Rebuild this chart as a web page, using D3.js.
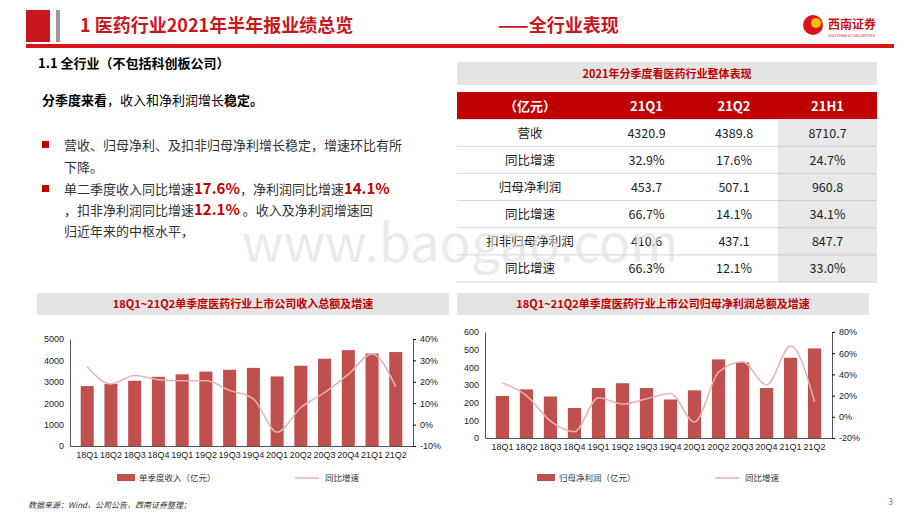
<!DOCTYPE html><html><head><meta charset="utf-8"><script src="https://cdn.jsdelivr.net/npm/d3@7"></script>
<style>body{margin:0;background:#fff;font-family:"Noto Sans CJK SC","Noto Sans",sans-serif}</style></head><body><svg id="s" width="920" height="518"></svg>
<script>
const quarters=["18Q1","18Q2","18Q3","18Q4","19Q1","19Q2","19Q3","19Q4","20Q1","20Q2","20Q3","20Q4","21Q1","21Q2"];
const revenue=[2800,2900,3050,3230,3350,3480,3560,3650,3250,3750,4080,4480,4320,4390];
const revenueGrowth=[27,19,23,21,20.5,20.5,16,12,-3.5,8,15,23.5,33,17.6];
const profit=[238,275,235,170,283,310,283,218,270,445,428,283,454,507];
const profitGrowth=[32,20,-4,-14,18,12,17,22,-5,42,52,30,66.7,14.1];
const revTicks=[0,1000,2000,3000,4000,5000], revPctTicks=[-10,0,10,20,30,40];
const proTicks=[0,100,200,300,400,500,600], proPctTicks=[-20,0,20,40,60,80];
const tableHead=["（亿元）","21Q1","21Q2","21H1"];
const tableRows=[["营收","4320.9","4389.8","8710.7"],["同比增速","32.9%","17.6%","24.7%"],["归母净利润","453.7","507.1","960.8"],["同比增速","66.7%","14.1%","34.1%"],["扣非归母净利润","410.6","437.1","847.7"],["同比增速","66.3%","12.1%","33.0%"]];
const svg=d3.select("#s");
const RED="#c0504d",DR="#c00000",PINK="#e6b3b3";
// header
svg.append("rect").attr("x",26).attr("y",10).attr("width",24).attr("height",32).attr("fill","#c8161d");
svg.append("rect").attr("x",56).attr("y",10).attr("width",4).attr("height",32).attr("fill","#999");
svg.append("rect").attr("x",26).attr("y",44).attr("width",868).attr("height",4).attr("fill","#d9141b");
svg.append("text").attr("x",80).attr("y",32).attr("font-size",18).attr("font-weight","bold").attr("fill","#c8161d").text("1 医药行业2021年半年报业绩总览");
svg.append("text").attr("x",498).attr("y",32).attr("font-size",18).attr("font-weight","bold").attr("fill","#c8161d").text("——全行业表现");
svg.append("circle").attr("cx",813).attr("cy",25).attr("r",10).attr("fill","#d9141b");
svg.append("circle").attr("cx",816).attr("cy",23).attr("r",5).attr("fill","#f2c200");
svg.append("text").attr("x",828).attr("y",29).attr("font-size",12).attr("font-weight","bold").attr("fill","#c8161d").text("西南证券");
svg.append("text").attr("x",828).attr("y",37).attr("font-size",4).attr("fill","#c8161d").text("SOUTHWEST SECURITIES");
// left text
svg.append("text").attr("x",38).attr("y",68).attr("font-size",13).attr("font-weight","bold").text("1.1 全行业（不包括科创板公司）");
const t2=svg.append("text").attr("x",42).attr("y",105).attr("font-size",13);
t2.append("tspan").attr("font-weight","bold").text("分季度来看");t2.append("tspan").text("，收入和净利润增长");t2.append("tspan").attr("font-weight","bold").text("稳定。");
svg.append("rect").attr("x",42).attr("y",141).attr("width",7).attr("height",7).attr("fill",DR);
svg.append("rect").attr("x",42).attr("y",185).attr("width",7).attr("height",7).attr("fill",DR);
svg.append("text").attr("x",64).attr("y",150).attr("font-size",13).attr("fill","#333").text("营收、归母净利、及扣非归母净利增长稳定，增速环比有所");
svg.append("text").attr("x",64).attr("y",172).attr("font-size",13).attr("fill","#333").text("下降。");
const l1=svg.append("text").attr("x",64).attr("y",194).attr("font-size",13).attr("fill","#333");
l1.append("tspan").text("单二季度收入同比增速");l1.append("tspan").attr("fill",DR).attr("font-weight","bold").attr("font-size",15).text("17.6%");
l1.append("tspan").text("，净利润同比增速");l1.append("tspan").attr("fill",DR).attr("font-weight","bold").attr("font-size",15).text("14.1%");
const l2=svg.append("text").attr("x",64).attr("y",215).attr("font-size",13).attr("fill","#333");
l2.append("tspan").text("，扣非净利润同比增速");l2.append("tspan").attr("fill",DR).attr("font-weight","bold").attr("font-size",15).text("12.1%");
l2.append("tspan").text(" 。收入及净利润增速回");
svg.append("text").attr("x",64).attr("y",236).attr("font-size",13).attr("fill","#333").text("归近年来的中枢水平，");
// table
svg.append("rect").attr("x",457).attr("y",62).attr("width",420).attr("height",23).attr("fill","#e4e4e4");
svg.append("text").attr("x",667).attr("y",78).attr("text-anchor","middle").attr("font-size",11).attr("font-weight","bold").attr("fill",DR).text("2021年分季度看医药行业整体表现");
const colX=[457,603,690,778,877];
const rowY=d3.scaleLinear().domain([0,7]).range([92,282]);
svg.append("rect").attr("x",457).attr("y",rowY(0)).attr("width",420).attr("height",rowY(1)-rowY(0)).attr("fill",DR);
svg.append("rect").attr("x",778).attr("y",rowY(1)).attr("width",99).attr("height",rowY(7)-rowY(1)).attr("fill","#e8e8e8");
tableHead.forEach((h,i)=>svg.append("text").attr("x",(colX[i]+colX[i+1])/2).attr("y",(rowY(0)+rowY(1))/2+5).attr("text-anchor","middle").attr("font-size",13).attr("font-weight","bold").attr("fill","#fff").text(h));
tableRows.forEach((r,j)=>{r.forEach((c,i)=>svg.append("text").attr("x",(colX[i]+colX[i+1])/2).attr("y",(rowY(j+1)+rowY(j+2))/2+5).attr("text-anchor","middle").attr("font-size",12.5).attr("fill","#222").text(c));
 svg.append("line").attr("x1",457).attr("x2",877).attr("y1",rowY(j+2)).attr("y2",rowY(j+2)).attr("stroke","#bbb").attr("stroke-width",0.6);});
// watermark
svg.append("text").attr("x",460).attr("y",262).attr("text-anchor","middle").attr("font-size",52).attr("fill","#ddd").attr("opacity",0.6).text("www.baogao.com");
function chart(x0,title,vals,pcts,ticks,pticks,plot,legend){
 svg.append("rect").attr("x",x0).attr("y",293).attr("width",412).attr("height",22).attr("fill","#e4e4e4");
 svg.append("text").attr("x",x0+206).attr("y",308).attr("text-anchor","middle").attr("font-size",11).attr("font-weight","bold").attr("fill",DR).text(title);
 const x=d3.scaleBand().domain(quarters).range([plot.l,plot.r]).padding(0.45);
 const y=d3.scaleLinear().domain(d3.extent(ticks)).range([plot.b,plot.t]);
 const y2=d3.scaleLinear().domain(d3.extent(pticks)).range([plot.b,plot.t]);
 const g=svg.append("g").attr("font-family","Liberation Sans,Arial");
 const ax=g.append("g").attr("transform",`translate(${plot.l},0)`).call(d3.axisLeft(y).tickValues(ticks).tickSize(0).tickPadding(6).tickFormat(d3.format("d")));
 const ax2=g.append("g").attr("transform",`translate(${plot.r},0)`).call(d3.axisRight(y2).tickValues(pticks).tickSize(3).tickPadding(4).tickFormat(d=>d+"%"));
 const axb=g.append("g").attr("transform",`translate(0,${plot.b})`).call(d3.axisBottom(x).tickSize(0).tickPadding(6));
 [ax,ax2,axb].forEach(a=>{a.selectAll("text").attr("font-size",9).attr("fill","#222");a.select(".domain").attr("stroke","#555");});
 g.selectAll(".b").data(vals).join("rect").attr("x",(d,i)=>x(quarters[i])).attr("width",x.bandwidth()).attr("y",d=>y(d)).attr("height",d=>plot.b-y(d)).attr("fill",RED);
 g.append("path").datum(pcts).attr("fill","none").attr("stroke",PINK).attr("stroke-width",1.5)
  .attr("d",d3.line().x((d,i)=>x(quarters[i])+x.bandwidth()/2).y(d=>y2(d)).curve(d3.curveMonotoneX));
 const ly=478;
 svg.append("rect").attr("x",x0+80).attr("y",ly-4).attr("width",18).attr("height",7).attr("fill",RED);
 svg.append("text").attr("x",x0+102).attr("y",ly+3).attr("font-size",8.5).attr("fill","#333").text(legend);
 svg.append("line").attr("x1",x0+258).attr("x2",x0+282).attr("y1",ly).attr("y2",ly).attr("stroke",PINK).attr("stroke-width",1.5);
 svg.append("text").attr("x",x0+288).attr("y",ly+3).attr("font-size",8.5).attr("fill","#333").text("同比增速");
}
chart(37,"18Q1~21Q2单季度医药行业上市公司收入总额及增速",revenue,revenueGrowth,revTicks,revPctTicks,{l:70,r:413,t:339,b:446},"单季度收入（亿元）");
chart(457,"18Q1~21Q2单季度医药行业上市公司归母净利润总额及增速",profit,profitGrowth,proTicks,proPctTicks,{l:485,r:832,t:332,b:438},"归母净利润（亿元）");
svg.append("text").attr("x",28).attr("y",508).attr("font-size",8).attr("font-style","italic").attr("fill","#333").text("数据来源：Wind，公司公告，西南证券整理；");
svg.append("text").attr("x",888).attr("y",505).attr("font-size",9).attr("fill","#888").text("3");
</script></body></html>
